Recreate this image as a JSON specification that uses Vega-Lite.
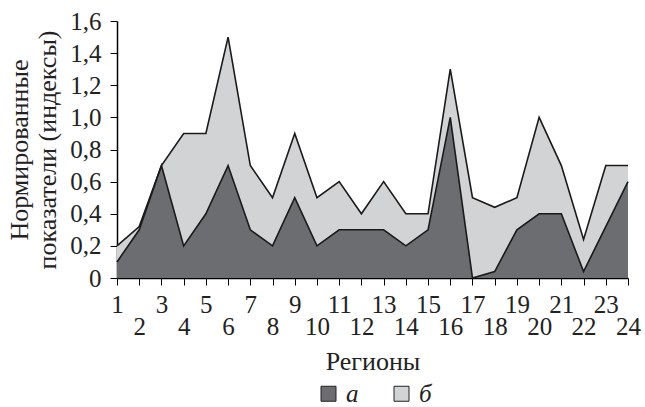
{
  "$schema": "https://vega.github.io/schema/vega-lite/v6.json",
  "autosize": "none",
  "width": 511,
  "height": 257,
  "padding": {"left": 117, "top": 21, "right": 17, "bottom": 129},
  "background": "white",
  "config": {
    "font": "Liberation Serif",
    "view": {"stroke": null},
    "axis": {"domainColor": "black", "tickColor": "black", "labelColor": "#222", "titleColor": "#222", "labelFont": "Liberation Serif", "titleFont": "Liberation Serif", "titleFontWeight": "normal", "grid": false}
  },
  "data": {"values": [
    {"region": 1, "series": "а", "value": 0.1}, {"region": 1, "series": "б", "value": 0.2},
    {"region": 2, "series": "а", "value": 0.3}, {"region": 2, "series": "б", "value": 0.32},
    {"region": 3, "series": "а", "value": 0.7}, {"region": 3, "series": "б", "value": 0.7},
    {"region": 4, "series": "а", "value": 0.2}, {"region": 4, "series": "б", "value": 0.9},
    {"region": 5, "series": "а", "value": 0.4}, {"region": 5, "series": "б", "value": 0.9},
    {"region": 6, "series": "а", "value": 0.7}, {"region": 6, "series": "б", "value": 1.5},
    {"region": 7, "series": "а", "value": 0.3}, {"region": 7, "series": "б", "value": 0.7},
    {"region": 8, "series": "а", "value": 0.2}, {"region": 8, "series": "б", "value": 0.5},
    {"region": 9, "series": "а", "value": 0.5}, {"region": 9, "series": "б", "value": 0.9},
    {"region": 10, "series": "а", "value": 0.2}, {"region": 10, "series": "б", "value": 0.5},
    {"region": 11, "series": "а", "value": 0.3}, {"region": 11, "series": "б", "value": 0.6},
    {"region": 12, "series": "а", "value": 0.3}, {"region": 12, "series": "б", "value": 0.4},
    {"region": 13, "series": "а", "value": 0.3}, {"region": 13, "series": "б", "value": 0.6},
    {"region": 14, "series": "а", "value": 0.2}, {"region": 14, "series": "б", "value": 0.4},
    {"region": 15, "series": "а", "value": 0.3}, {"region": 15, "series": "б", "value": 0.4},
    {"region": 16, "series": "а", "value": 1.0}, {"region": 16, "series": "б", "value": 1.3},
    {"region": 17, "series": "а", "value": 0.0}, {"region": 17, "series": "б", "value": 0.5},
    {"region": 18, "series": "а", "value": 0.04}, {"region": 18, "series": "б", "value": 0.44},
    {"region": 19, "series": "а", "value": 0.3}, {"region": 19, "series": "б", "value": 0.5},
    {"region": 20, "series": "а", "value": 0.4}, {"region": 20, "series": "б", "value": 1.0},
    {"region": 21, "series": "а", "value": 0.4}, {"region": 21, "series": "б", "value": 0.7},
    {"region": 22, "series": "а", "value": 0.04}, {"region": 22, "series": "б", "value": 0.24},
    {"region": 23, "series": "а", "value": 0.32}, {"region": 23, "series": "б", "value": 0.7},
    {"region": 24, "series": "а", "value": 0.6}, {"region": 24, "series": "б", "value": 0.7}
  ]},
  "encoding": {
    "x": {
      "field": "region", "type": "quantitative",
      "scale": {"domain": [1, 24], "nice": false, "zero": false},
      "axis": {
        "values": [1,2,3,4,5,6,7,8,9,10,11,12,13,14,15,16,17,18,19,20,21,22,23,24],
        "labelExpr": "datum.value % 2 == 0 ? ['', datum.label] : datum.label",
        "labelFontSize": 25, "labelLineHeight": 22, "labelFlush": false, "labelOverlap": false,
        "tickSize": 7, "labelPadding": 7, "domainWidth": 1.5,
        "title": "Регионы", "titleFontSize": 26, "titlePadding": 9
      }
    },
    "y": {
      "field": "value", "type": "quantitative",
      "scale": {"domain": [0, 1.6], "nice": false},
      "axis": {
        "values": [0, 0.2, 0.4, 0.6, 0.8, 1.0, 1.2, 1.4, 1.6],
        "labelExpr": "datum.value == 0 ? '0' : replace(format(datum.value, '.1f'), '.', ',')",
        "labelFontSize": 25, "tickSize": 7, "labelPadding": 9, "domainWidth": 1.5,
        "title": ["Нормированные", "показатели (индексы)"], "titleFontSize": 26, "titleLineHeight": 28, "titlePadding": 9
      }
    }
  },
  "layer": [
    {
      "transform": [{"filter": "datum.series == 'б'"}],
      "mark": {"type": "area", "opacity": 1},
      "encoding": {
        "color": {
          "field": "series", "type": "nominal",
          "scale": {"domain": ["а", "б"], "range": ["#6c6d71", "#d2d3d5"]},
          "legend": {
            "orient": "none", "direction": "horizontal", "title": null,
            "legendX": 199, "legendY": 360,
            "symbolType": "square", "symbolSize": 225, "symbolStrokeColor": "#222", "symbolStrokeWidth": 1, "symbolOpacity": 1,
            "labelFontSize": 25, "labelFontStyle": "italic", "labelFont": "Liberation Serif", "labelColor": "#222",
            "columnPadding": 30, "labelOffset": 5
          }
        }
      }
    },
    {
      "transform": [{"filter": "datum.series == 'а'"}],
      "mark": {"type": "area", "opacity": 1},
      "encoding": {
        "color": {"field": "series", "type": "nominal"}
      }
    },
    {
      "mark": {"type": "line", "color": "#1a1a1a", "strokeWidth": 1.6},
      "encoding": {"detail": {"field": "series"}}
    }
  ]
}
